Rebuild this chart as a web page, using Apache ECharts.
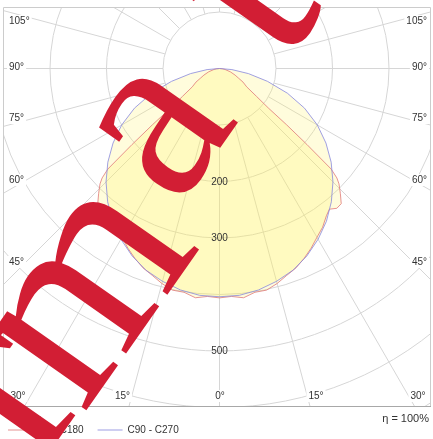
<!DOCTYPE html>
<html><head><meta charset="utf-8">
<script src="https://cdn.jsdelivr.net/npm/echarts@6/dist/echarts.min.js"></script>
<style>html,body{margin:0;padding:0;background:#fff}#c{width:433px;height:439px}</style>
</head><body><div id="c"></div>
<script>
// C90 - C270 plane (gamma angle in degrees, intensity cd/klm)
const c90Angles = [0,5,10,15,20,25,30,35,40,45,50,55,60,65,70,75,80,85,90,180];
const c90Values = [404,403,398,390,380,366,349,330,308,284,258,230,200,166,128,88,52,22,0,0];
// C0 - C180 plane
const c0Angles = [0,3,6,9,12,15,18,21,24,27,30,33,36,38,40,42,44,46,47,48,49,50,51,53,56,60,63,67,73,80,85,90,180];
const c0Values = [406,404,408,401,401,394,385,378,368,357,345,335,322,316,323,322,308,294,284,266,205,155,112,82,58,48,38,30,20,10,5,0,0];
// tick labels
const gammaLeftLabels = ['105°','90°','75°','60°','45°'];
const gammaBottomLabels = ['30°','15°','0°','15°','30°'];
const radiusLabels = ['200','300','500'];
const seriesNames = ['C0 - C180','C90 - C270'];
const unitText = 'cd/klm';
const etaText = 'η = 100%';
const watermarkLetters = ['r','m','a','t'];

function fullPlane(angles, values){
  const pts = [];
  for (let i=0;i<angles.length;i++) pts.push([values[i], angles[i]]);
  for (let i=angles.length-1;i>=0;i--) pts.push([values[i], 360-angles[i]]);
  return pts;
}

const CX = 219.5, CY = 68.5, K = 0.565;
const chart = echarts.init(document.getElementById('c'), null, {renderer:'canvas'});

const labelFont = '10px "Liberation Sans", Arial, sans-serif';
const txt = (text, x, y, align, bg) => ({
  type:'text', z:120, x, y,
  style:{text, font:labelFont, fill:'#333', align, verticalAlign:'middle',
    backgroundColor: bg ? '#fff' : null, padding: bg ? [1,2] : 0}
});

const leftY = [21, 67.5, 118, 180, 262];
const bottomX = [18, 122.5, 220, 316, 418];
const radY = [182, 238, 351];
// watermark letter baseline origins (screen px) and sizes
const WROT = 55;
const wmPos = [[18,452],[62,400],[158,195],[262,52]];
const wmSize = [265,265,245,265];

const graphics = [
  {type:'rect', z:100, shape:{x:0,y:0,width:433,height:7}, style:{fill:'#fff'}},
  {type:'rect', z:100, shape:{x:0,y:0,width:3,height:439}, style:{fill:'#fff'}},
  {type:'rect', z:100, shape:{x:430.5,y:0,width:3,height:439}, style:{fill:'#fff'}},
  {type:'rect', z:100, shape:{x:0,y:406.5,width:433,height:33}, style:{fill:'#fff'}},
  {type:'rect', z:110, shape:{x:3.5,y:7.5,width:427,height:399}, style:{fill:null, stroke:'#cccccc', lineWidth:1}},
  {type:'line', z:111, shape:{x1:3,y1:406.5,x2:431,y2:406.5}, style:{stroke:'#a8a8a8', lineWidth:1.2}},
];
gammaLeftLabels.forEach((t,i)=>{
  graphics.push(txt(t, 7, leftY[i], 'left', true));
  graphics.push(txt(t, 429, leftY[i], 'right', true));
});
gammaBottomLabels.forEach((t,i)=>{
  graphics.push(txt(t, bottomX[i], 396, 'center', true));
});
radiusLabels.forEach((t,i)=>{
  graphics.push(txt(t, CX, radY[i], 'center', false));
});
graphics.push({type:'text', z:120, x:10, y:419, style:{text:unitText, font:'11px "Liberation Sans", Arial, sans-serif', fill:'#333', align:'left', verticalAlign:'middle'}});
graphics.push({type:'text', z:120, x:429, y:419, style:{text:etaText, font:'11px "Liberation Sans", Arial, sans-serif', fill:'#333', align:'right', verticalAlign:'middle'}});
watermarkLetters.forEach((ch,i)=>{
  const F = wmSize[i];
  graphics.push({
    type:'group', z:200, x: wmPos[i][0], y: wmPos[i][1], rotation: WROT*Math.PI/180,
    children:[{type:'text', z:200, x:0, y:-0.165*F,
      style:{text:ch, font: F+'px "Liberation Serif", "DejaVu Serif", serif', fill:'#d21e34', align:'left', verticalAlign:'middle'}}]
  });
});

const option = {
  animation:false,
  polar:[
    {center:[CX,CY], radius:[100*K, 800*K]},
    {center:[CX,CY], radius:[0, 800*K]}
  ],
  angleAxis:[
    {polarIndex:0, type:'value', min:0, max:360, interval:15, startAngle:270, clockwise:true,
     axisLine:{show:false}, axisTick:{show:false}, axisLabel:{show:false},
     splitLine:{show:true, lineStyle:{color:'#d6d6d6', width:1}}},
    {polarIndex:1, type:'value', min:0, max:360, startAngle:270, clockwise:true, show:false}
  ],
  radiusAxis:[
    {polarIndex:0, type:'value', min:100, max:800, interval:100,
     axisLine:{show:false}, axisTick:{show:false}, axisLabel:{show:false},
     splitLine:{show:true, lineStyle:{color:'#d6d6d6', width:1}}},
    {polarIndex:1, type:'value', min:0, max:800, show:false}
  ],
  legend:{
    z:150, left:8, top:425, padding:0, itemWidth:25, itemHeight:1, itemGap:14, icon:'rect',
    textStyle:{fontSize:10, color:'#333', fontFamily:'"Liberation Sans", Arial, sans-serif'},
    data: seriesNames
  },
  series:[
    {name:seriesNames[0], type:'line', coordinateSystem:'polar', polarIndex:1, clip:false,
     symbol:'none', data: fullPlane(c0Angles, c0Values),
     lineStyle:{color:'#e07878', width:0.8}, itemStyle:{color:'#e49090'},
     areaStyle:{color:'rgba(255,242,90,0.3)'}, z:2},
    {name:seriesNames[1], type:'line', coordinateSystem:'polar', polarIndex:1, clip:false,
     symbol:'none', data: fullPlane(c90Angles, c90Values),
     lineStyle:{color:'#8888dd', width:0.8}, itemStyle:{color:'#9c9ce2'},
     areaStyle:{color:'rgba(255,242,90,0.3)'}, z:2}
  ],
  graphic: graphics
};
chart.setOption(option);
</script>
</body></html>
